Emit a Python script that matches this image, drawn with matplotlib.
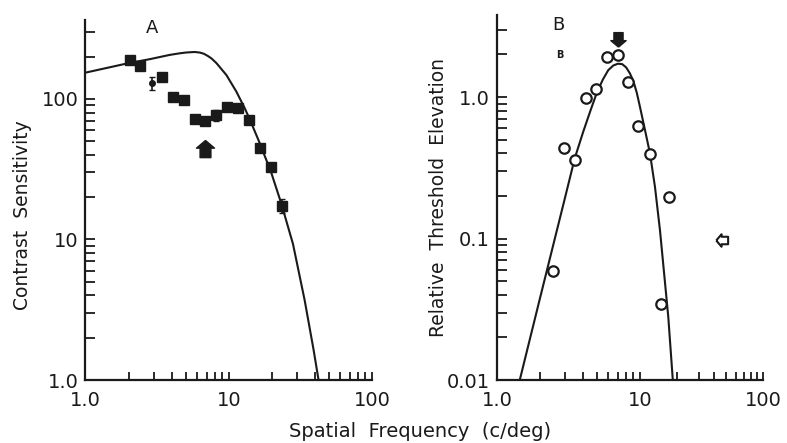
import numpy as np
import matplotlib
matplotlib.use("Agg")
import matplotlib.pyplot as plt

# panel A: contrast sensitivity (filled squares) and fitted curve
a_freq = [2.03, 2.42, 3.44, 4.1, 4.9, 5.78, 6.87, 8.2, 9.8, 11.6, 13.8, 16.5, 19.8, 23.6]
a_sens = [188, 171, 143, 104, 98, 72.5, 69.5, 77, 88, 86.8, 71.3, 44.7, 32.6, 17.4]
a_err = [5, 9, 5, 4, 4, 3, 3, 7, 6, 4, 3, 3, 2, 2]
a_odd_freq = [2.93]
a_odd_sens = [130]
a_odd_err = [14]
a_arrow = (6.87, 44)
a_curve_x = [1.0, 2.0, 2.81, 3.88, 4.5, 5.0, 5.35, 5.8, 6.28, 6.7, 7.17, 7.6, 8.21, 9.64,
             11.3, 12.9, 14.0, 16.4, 19.8, 23.3, 28.1, 33.9, 39.1, 42.6]
a_curve_y = [154, 180, 192, 206, 211, 214, 215, 216, 214, 210, 202, 194, 180, 148,
             113, 86.5, 72, 49, 30, 18, 9.3, 3.7, 1.65, 0.97]

# panel B: relative threshold elevation (open circles) and fitted curve
b_freq = [2.48, 2.94, 3.53, 4.21, 4.95, 5.91, 7.02, 8.20, 9.73, 12.0, 14.7, 17.3]
b_elev = [0.0587, 0.438, 0.360, 0.98, 1.14, 1.92, 1.97, 1.27, 0.624, 0.397, 0.0347, 0.195]
b_open = (46, 0.097)
b_arrow = (7.0, 2.56)
b_curve_x = [1.45, 2.0, 2.5, 3.0, 3.5, 4.0, 4.5, 5.0, 5.5, 6.0, 6.5, 7.0, 7.5, 8.0,
             8.5, 9.0, 9.5, 10.0, 11.0, 12.06, 13.24, 14.54, 15.47, 16.98, 18.45]
b_curve_y = [0.0102, 0.038, 0.094, 0.197, 0.37, 0.565, 0.80, 1.08, 1.33, 1.55, 1.67,
             1.72, 1.71, 1.62, 1.47, 1.29, 1.07, 0.85, 0.58, 0.398, 0.231, 0.114, 0.065,
             0.0279, 0.0102]

decades = [1, 10, 100]
ink = "#1a1a1a"

# house shaped arrow marker
house_up = [(0, 1), (1, 0.15), (0.6, 0.15), (0.6, -0.9), (-0.6, -0.9), (-0.6, 0.15), (-1, 0.15), (0, 1)]
house_down = [(x, -y) for x, y in house_up]
house_left = [(-y, x) for x, y in house_up]

# the scanned panel B has a shorter second decade on the x axis
squeeze = 0.86

def fwd(x):
    lx = np.log10(np.clip(x, 1e-9, None))
    return np.where(lx <= 1, lx, 1 + (lx - 1) * squeeze)

def inv(y):
    return np.where(y <= 1, 10.0 ** y, 10.0 ** (1 + (y - 1) / squeeze))

plt.rcParams['font.family'] = 'DejaVu Sans'
fig = plt.figure(figsize=(7.87, 4.43), dpi=100)
axA = fig.add_axes([0.1086, 0.1422, 0.364, 0.8127])
axB = fig.add_axes([0.6315, 0.1422, 0.338, 0.8239])

# panel A
axA.plot(a_curve_x, a_curve_y, color=ink, lw=1.5)
axA.errorbar(a_freq, a_sens, yerr=a_err, fmt='s', color=ink, ms=6.5, capsize=2, elinewidth=1.2)
axA.errorbar(a_odd_freq, a_odd_sens, yerr=a_odd_err, fmt='o', color=ink, ms=4, capsize=2.5, elinewidth=1.2)
axA.plot(*a_arrow, marker=house_up, color=ink, ms=13, ls='none')
axA.set_xscale('log')
axA.set_yscale('log')
axA.set_xlim(1, 100)
axA.set_ylim(1, 365)
axA.set_yticks(decades)
axA.set_yticklabels(["1.0", "10", "100"])
axA.set_yticks([m * d for d in decades for m in range(2, 10) if m * d < 365], minor=True)
axA.text(2.9, 320, "A", fontsize=13, ha='center', va='center', color=ink)

# panel B
axB.set_xscale('function', functions=(fwd, inv))
axB.set_yscale('log')
axB.plot(b_curve_x, b_curve_y, color=ink, lw=1.5)
axB.plot(b_freq, b_elev, 'o', mfc='white', mec=ink, mew=1.6, ms=7.5)
axB.plot(*b_open, marker=house_left, mfc='white', mec=ink, mew=1.5, ms=9, ls='none')
axB.plot(*b_arrow, marker=house_down, color=ink, ms=11, ls='none')
axB.set_xlim(1, 100)
axB.set_ylim(0.01, 3.8)
axB.set_yticks([0.01, 0.1, 1])
axB.set_yticklabels(["0.01", "0.1", "1.0"])
axB.set_yticks([m * d for d in [0.01, 0.1, 1] for m in range(2, 10) if m * d < 3.8], minor=True)
axB.text(2.67, 3.23, "B", fontsize=13, ha='center', va='center', color=ink)
axB.text(2.76, 1.97, "B", fontsize=7, fontweight='bold', ha='center', va='center', color=ink)

for ax in (axA, axB):
    ax.set_xticks(decades)
    ax.set_xticklabels(["1.0", "10", "100"])
    ax.set_xticks([m * d for d in [1, 10] for m in range(2, 10)], minor=True)
    ax.spines['top'].set_visible(False)
    ax.spines['right'].set_visible(False)
    for s in ('left', 'bottom'):
        ax.spines[s].set_linewidth(1.6)
        ax.spines[s].set_color(ink)
    ax.tick_params(which='both', direction='in', width=1.3, color=ink, labelcolor=ink, labelsize=14)
    ax.tick_params(axis='y', which='both', length=7, pad=5)
    ax.tick_params(axis='x', which='both', length=6, pad=8)
    ax.tick_params(which='minor', labelleft=False, labelbottom=False)

fig.text(0.028, 0.515, "Contrast  Sensitivity", rotation=90, ha='center', va='center', fontsize=13.5, color=ink)
fig.text(0.557, 0.555, "Relative  Threshold  Elevation", rotation=90, ha='center', va='center', fontsize=13.5, color=ink)
fig.text(0.534, 0.026, "Spatial  Frequency  (c/deg)", ha='center', va='center', fontsize=14, color=ink)

fig.savefig("out.png", dpi=100, facecolor='white')
